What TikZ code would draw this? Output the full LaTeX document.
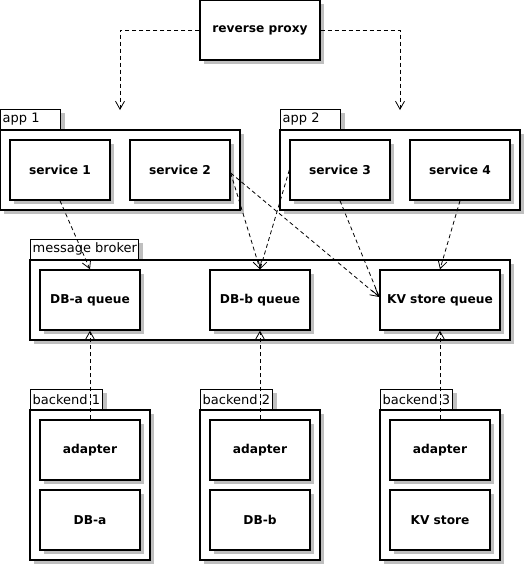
\documentclass[tikz,border=0pt]{standalone}
\usepackage{fontspec}
\setmainfont{DejaVu Sans}
\usetikzlibrary{arrows.meta,shadows}
\begin{document}
\begin{tikzpicture}[x=1pt,y=-1pt,
  shad/.style={drop shadow={shadow xshift=4pt,shadow yshift=-4pt,fill=black!25,opacity=1}},
  comp/.style={draw,line width=1.4pt,fill=white,shad,inner sep=0pt,
    minimum width=100pt,minimum height=60pt,font=\fontsize{12.2}{14}\selectfont\bfseries},
  pkgbody/.style={draw,line width=1.4pt,fill=white,shad,inner sep=0pt},
  pkgtab/.style={draw,line width=1.4pt,fill=white,shad,inner sep=0pt,
    minimum height=20pt,minimum width=#1,anchor=south west},
  tablabel/.style={anchor=west,label distance=0pt,inner xsep=2.5pt,inner ysep=0pt,
    font=\fontsize{13}{15}\selectfont},
  dep/.style={line width=0.8pt,dash pattern=on 4pt off 3pt,
    -{Straight Barb[length=8pt,width=9pt,line width=0.8pt]}}
]
\useasboundingbox (0,0) rectangle (525,565);

% reverse proxy
\node[comp,minimum width=120pt] (proxy) at (260,30) {reverse proxy};

% app 1
\node[pkgtab=60pt,label={[tablabel]west:app 1}] (app1tab) at (0,130) {};
\node[pkgbody,minimum width=240pt,minimum height=80pt] (app1) at (120,170) {};
\node[comp] (s1) at (60,170) {service 1};
\node[comp] (s2) at (180,170) {service 2};

% app 2
\node[pkgtab=60pt,label={[tablabel]west:app 2}] (app2tab) at (280,130) {};
\node[pkgbody,minimum width=240pt,minimum height=80pt] (app2) at (400,170) {};
\node[comp] (s3) at (340,170) {service 3};
\node[comp] (s4) at (460,170) {service 4};

% message broker
\node[pkgtab=108pt,label={[tablabel]west:message broker}] (brokertab) at (30,260) {};
\node[pkgbody,minimum width=480pt,minimum height=80pt] (broker) at (270,300) {};
\node[comp] (qa) at (90,300) {DB-a queue};
\node[comp] (qb) at (260,300) {DB-b queue};
\node[comp,minimum width=120pt] (kv) at (440,300) {KV store queue};

% backend 1
\node[pkgtab=72pt,label={[tablabel]west:backend 1}] (b1tab) at (30,410) {};
\node[pkgbody,minimum width=120pt,minimum height=150pt] (b1) at (90,485) {};
\node[comp] (ad1) at (90,450) {adapter};
\node[comp] (dba) at (90,520) {DB-a};

% backend 2
\node[pkgtab=72pt,label={[tablabel]west:backend 2}] (b2tab) at (200,410) {};
\node[pkgbody,minimum width=120pt,minimum height=150pt] (b2) at (260,485) {};
\node[comp] (ad2) at (260,450) {adapter};
\node[comp] (dbb) at (260,520) {DB-b};

% backend 3
\node[pkgtab=72pt,label={[tablabel]west:backend 3}] (b3tab) at (380,410) {};
\node[pkgbody,minimum width=120pt,minimum height=150pt] (b3) at (440,485) {};
\node[comp] (ad3) at (440,450) {adapter};
\node[comp] (kvs) at (440,520) {KV store};

% connector ends on packages
\coordinate (app1in) at (120,110);
\coordinate (app2in) at (400,110);

% connectors
\draw[dep] (proxy.west) -| (app1in);
\draw[dep] (proxy.east) -| (app2in);
\draw[dep] (s1.south) -- (qa.north);
\draw[dep] ([yshift=-3pt]s2.east) -- (qb.north);
\draw[dep] ([yshift=-3pt]s2.east) -- ([yshift=3pt]kv.west);
\draw[dep] (s3.west) -- (qb.north);
\draw[dep] (s3.south) -- ([yshift=3pt]kv.west);
\draw[dep] (s4.south) -- (kv.north);
\draw[dep] (ad1.north) -- (qa.south);
\draw[dep] (ad2.north) -- (qb.south);
\draw[dep] (ad3.north) -- (kv.south);
\end{tikzpicture}
\end{document}
